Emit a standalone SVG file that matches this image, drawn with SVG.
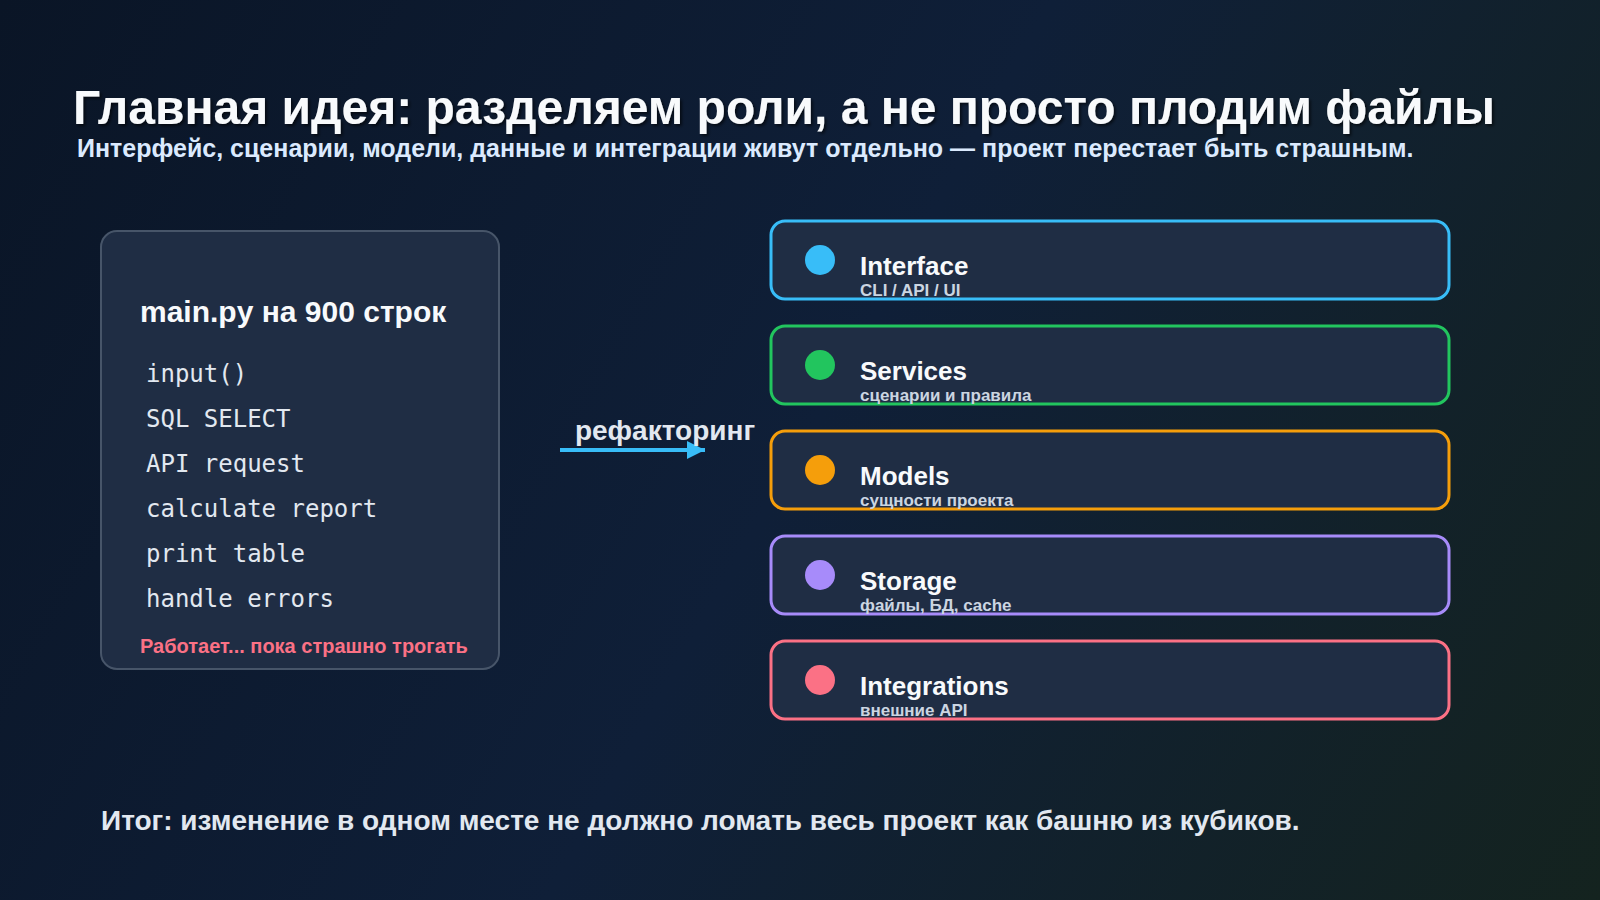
<svg xmlns="http://www.w3.org/2000/svg" width="1600" height="900" viewBox="0 0 1600 900">
<defs>
<linearGradient id="bg" x1="0" y1="0" x2="1600" y2="900" gradientUnits="userSpaceOnUse">
<stop offset="0" stop-color="#0a1526"/>
<stop offset="0.5" stop-color="#0f1f38"/>
<stop offset="1" stop-color="#14231f"/>
</linearGradient>
<filter id="sh" x="-5%" y="-20%" width="110%" height="140%">
<feDropShadow dx="2" dy="2" stdDeviation="1.5" flood-color="#000" flood-opacity="0.6"/>
</filter>
<marker id="ah" markerWidth="18" markerHeight="18" refX="18" refY="9" orient="auto" markerUnits="userSpaceOnUse" viewBox="0 0 18 18">
<path d="M0,0 L18,9 L0,18 Z" fill="#38bdf8"/>
</marker>
</defs>
<style>
.sans{font-family:"Liberation Sans",Arial,sans-serif;font-weight:bold}
.title{font-size:48px;fill:#f8fafc}
.sub{font-size:25px;fill:#dbeafe}
.card{fill:#1f2d44;stroke:#475569;stroke-width:2}
.code{font-family:"DejaVu Sans Mono",monospace;font-size:24px;fill:#e2e8f0}
.layer{fill:#1f2d44;stroke-width:3}
.lt{font-size:26px;fill:#f8fafc}
.ls{font-size:17px;fill:#cbd5e1}
</style>
<rect x="0" y="0" width="1600" height="900" fill="url(#bg)"/>
<g id="header">
<text class="sans title" x="73" y="124" filter="url(#sh)">Главная идея: разделяем роли, а не просто плодим файлы</text>
<text class="sans sub" x="77" y="157">Интерфейс, сценарии, модели, данные и интеграции живут отдельно — проект перестает быть страшным.</text>
</g>
<g id="monolith">
<rect class="card" x="101" y="231" width="398" height="438" rx="16"/>
<text class="sans" x="140" y="322" font-size="30" fill="#f8fafc">main.py на 900 строк</text>
<text class="code" x="146" y="382">input()</text>
<text class="code" x="146" y="427">SQL SELECT</text>
<text class="code" x="146" y="472">API request</text>
<text class="code" x="146" y="517">calculate report</text>
<text class="code" x="146" y="562">print table</text>
<text class="code" x="146" y="607">handle errors</text>
<text class="sans" x="140" y="653" font-size="20" fill="#fb7185">Работает... пока страшно трогать</text>
</g>
<g id="connectors">
<line x1="560" y1="450" x2="705" y2="450" stroke="#38bdf8" stroke-width="4" marker-end="url(#ah)"/>
<text class="sans" x="665" y="440" font-size="28" fill="#e2e8f0" text-anchor="middle">рефакторинг</text>
</g>
<g id="interface">
<rect class="layer" x="771" y="221" width="678" height="78" rx="14" stroke="#38bdf8"/>
<circle cx="820" cy="260" r="15" fill="#38bdf8"/>
<text class="sans lt" x="860" y="275">Interface</text>
<text class="sans ls" x="860" y="296">CLI / API / UI</text>
</g>
<g id="services">
<rect class="layer" x="771" y="326" width="678" height="78" rx="14" stroke="#22c55e"/>
<circle cx="820" cy="365" r="15" fill="#22c55e"/>
<text class="sans lt" x="860" y="380">Services</text>
<text class="sans ls" x="860" y="401">сценарии и правила</text>
</g>
<g id="models">
<rect class="layer" x="771" y="431" width="678" height="78" rx="14" stroke="#f59e0b"/>
<circle cx="820" cy="470" r="15" fill="#f59e0b"/>
<text class="sans lt" x="860" y="485">Models</text>
<text class="sans ls" x="860" y="506">сущности проекта</text>
</g>
<g id="storage">
<rect class="layer" x="771" y="536" width="678" height="78" rx="14" stroke="#a78bfa"/>
<circle cx="820" cy="575" r="15" fill="#a78bfa"/>
<text class="sans lt" x="860" y="590">Storage</text>
<text class="sans ls" x="860" y="611">файлы, БД, cache</text>
</g>
<g id="integrations">
<rect class="layer" x="771" y="641" width="678" height="78" rx="14" stroke="#fb7185"/>
<circle cx="820" cy="680" r="15" fill="#fb7185"/>
<text class="sans lt" x="860" y="695">Integrations</text>
<text class="sans ls" x="860" y="716">внешние API</text>
</g>
<g id="footer">
<text class="sans" x="101" y="830" font-size="28" fill="#e2e8f0">Итог: изменение в одном месте не должно ломать весь проект как башню из кубиков.</text>
</g>
</svg>
